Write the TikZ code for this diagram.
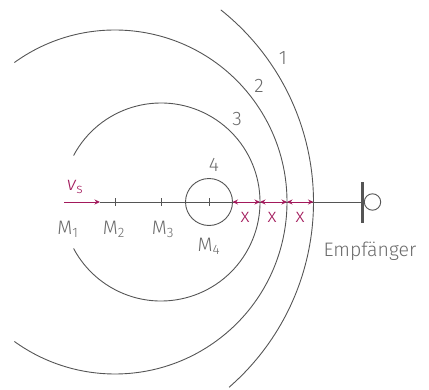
\documentclass[tikz,border=0pt]{standalone}
\usepackage{fontspec}
\setmainfont{Fira Sans}[UprightFont=* Light,ItalicFont=* Light Italic]
\usetikzlibrary{arrows.meta}
\definecolor{wave}{HTML}{555555}
\definecolor{txt}{HTML}{6A6A6A}
\definecolor{accent}{HTML}{A2195B}

\begin{document}
\begin{tikzpicture}[x=1pt,y=1pt,
  wave/.style={draw=wave,line width=0.9pt},
  lbl/.style={text=txt,font=\fontsize{19.5}{21}\selectfont,inner sep=0pt},
  dist/.style={accent,line width=0.9pt,{Stealth[length=5.5pt,width=5pt]}-{Stealth[length=5.5pt,width=5pt]}}]
\useasboundingbox (0,-187) rectangle (429,202);
\coordinate (M1) at (68,0);
\coordinate (M2) at (115,0);
\coordinate (M3) at (161,0);
\coordinate (M4) at (209,0);
\coordinate (s) at (64,0);
\coordinate (v) at (100,0);
\coordinate (r4) at (232.5,0);
\coordinate (r3) at (260,0);
\coordinate (r2) at (287,0);
\coordinate (r1) at (313.5,0);
\coordinate (rx) at (362.5,0);
\draw[wave] (M1) ++(51.5:245.5) arc[start angle=51.5,end angle=-49,radius=245.5];
\draw[wave] (M2) ++(125.8:172) arc[start angle=125.8,end angle=-125.8,radius=172];
\draw[wave] (M3) ++(152:99) arc[start angle=152,end angle=-152,radius=99];
\draw[wave] (M4) circle[radius=23.5];
\draw[wave] (v) -- (rx);
\foreach \m in {M2,M3,M4} \draw[wave] (\m) ++(0,4) -- ++(0,-8);
\draw[accent,line width=0.9pt,-{Stealth[length=5.5pt,width=5pt]}] (s) -- (v);
\draw[dist] (r4) -- (r3);
\draw[dist] (r3) -- (r2);
\draw[dist] (r2) -- (r1);
\draw[wave,line width=3.5pt] (rx) ++(0,20) -- ++(0,-41);
\draw[wave] (372.5,0) circle[radius=8.2];
\node[lbl,text=accent] (vs) at (75,15) {\textit{v}\textsubscript{s}};
\node[lbl] (l1) at (68,-27) {M\textsubscript{1}};
\node[lbl] (l2) at (114,-27) {M\textsubscript{2}};
\node[lbl] (l3) at (163,-27) {M\textsubscript{3}};
\node[lbl] (l4) at (209,-44) {M\textsubscript{4}};
\node[lbl] (n1) at (283,144) {1};
\node[lbl] (n2) at (259,116) {2};
\node[lbl] (n3) at (237,83) {3};
\node[lbl] (n4) at (214,37) {4};
\node[lbl,text=accent] (x1) at (245,-15) {x};
\node[lbl,text=accent] (x2) at (272,-15) {x};
\node[lbl,text=accent] (x3) at (300,-15) {x};
\node[lbl] (emp) at (370,-49) {Empfänger};
\end{tikzpicture}
\end{document}
